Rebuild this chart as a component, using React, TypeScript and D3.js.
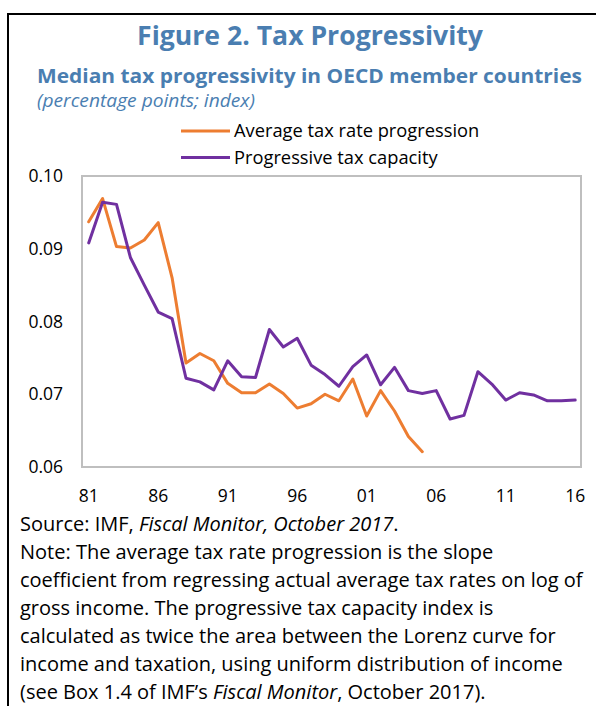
import React from "react";
import * as d3 from "d3";

const years = d3.range(1981, 2017);
const avgTaxRateProgression = [
  0.0937, 0.0969, 0.0903, 0.0901, 0.0912, 0.0936, 0.0860, 0.0743, 0.0756, 0.0746,
  0.0715, 0.0702, 0.0702, 0.0714, 0.0701, 0.0681, 0.0687, 0.0700, 0.0691, 0.0721,
  0.0670, 0.0705, 0.0677, 0.0642, 0.0621,
];
const progressiveTaxCapacity = [
  0.0908, 0.0964, 0.0961, 0.0888, 0.0850, 0.0813, 0.0804, 0.0722, 0.0717, 0.0706,
  0.0746, 0.0724, 0.0723, 0.0789, 0.0765, 0.0777, 0.0740, 0.0727, 0.0711, 0.0738,
  0.0754, 0.0713, 0.0737, 0.0705, 0.0701, 0.0705, 0.0666, 0.0671, 0.0731, 0.0714,
  0.0692, 0.0702, 0.0699, 0.0691, 0.0691, 0.0692,
];
const yTicks = [0.06, 0.07, 0.08, 0.09, 0.1];
const xTickYears = [1981, 1986, 1991, 1996, 2001, 2006, 2011, 2016];
const seriesNames = ["Average tax rate progression", "Progressive tax capacity"];
const seriesColors = ["#ED7D31", "#7030A0"];

const FONT = "'Open Sans', 'Noto Sans', sans-serif";
const BLUE = "#4A7EB1";

export default function App() {
  const W = 599, H = 706;
  const plot = { left: 82, right: 581, top: 176, bottom: 467 };
  const x = d3.scaleLinear().domain([1981, 2016]).range([88.7, 575.2]);
  const y = d3.scaleLinear().domain([0.06, 0.1]).range([plot.bottom, plot.top]);
  const line = d3
    .line<number>()
    .x((_, i) => x(years[i]))
    .y((d) => y(d));
  const series = [avgTaxRateProgression, progressiveTaxCapacity];

  const noteLines: React.ReactNode[] = [
    <>
      Source: IMF, <tspan fontStyle="italic">Fiscal Monitor, October 2017</tspan>.
    </>,
    <>Note: The average tax rate progression is the slope</>,
    <>coefficient from regressing actual average tax rates on log of</>,
    <>gross income. The progressive tax capacity index is</>,
    <>calculated as twice the area between the Lorenz curve for</>,
    <>income and taxation, using uniform distribution of income</>,
    <>
      (see Box 1.4 of IMF’s <tspan fontStyle="italic">Fiscal Monitor</tspan>, October 2017).
    </>,
  ];

  return (
    <svg
      width={W}
      height={H}
      style={{ position: "absolute", left: 0, top: 0, background: "#fff" }}
      fontFamily={FONT}
    >
      <rect x={0} y={0} width={W} height={H} fill="#fff" />
      {/* outer frame (top & left) */}
      <line x1={7} x2={596} y1={14} y2={14} stroke="#000" strokeWidth={2} />
      <line x1={8} x2={8} y1={13} y2={H} stroke="#000" strokeWidth={2} />

      <text x={310} y={45} textAnchor="middle" fontSize={26.6} fontWeight="bold" fill={BLUE}>
        Figure 2. Tax Progressivity
      </text>
      <text x={37} y={83} fontSize={20} fontWeight="bold" fill={BLUE} textLength={545} lengthAdjust="spacingAndGlyphs">
        Median tax progressivity in OECD member countries
      </text>
      <text x={37} y={107} fontSize={18} fontStyle="italic" fill={BLUE} textLength={218} lengthAdjust="spacingAndGlyphs">
        (percentage points; index)
      </text>

      {/* legend */}
      {seriesNames.map((n, i) => (
        <g key={n}>
          <line
            x1={181}
            x2={230}
            y1={131 + i * 26.5}
            y2={131 + i * 26.5}
            stroke={seriesColors[i]}
            strokeWidth={3}
          />
          <text x={234} y={137 + i * 26.5} fontSize={18.3} fill="#000">
            {n}
          </text>
        </g>
      ))}

      {/* plot frame */}
      <rect
        x={plot.left}
        y={plot.top}
        width={plot.right - plot.left}
        height={plot.bottom - plot.top}
        fill="none"
        stroke="#BFBFBF"
        strokeWidth={2}
      />

      {yTicks.map((t) => (
        <text key={t} x={63} y={y(t) + 6} textAnchor="end" fontSize={17.5} fill="#000">
          {d3.format(".2f")(t)}
        </text>
      ))}
      {xTickYears.map((t) => (
        <text key={t} x={x(t)} y={502} textAnchor="middle" fontSize={17.5} fill="#000">
          {String(t % 100).padStart(2, "0")}
        </text>
      ))}

      {series.map((s, i) => (
        <path
          key={i}
          d={line(s) || ""}
          fill="none"
          stroke={seriesColors[i]}
          strokeWidth={3}
          strokeLinejoin="round"
          strokeLinecap="round"
        />
      ))}

      {noteLines.map((l, i) => (
        <text key={i} x={20} y={531 + i * 28} fontSize={20} fill="#000">
          {l}
        </text>
      ))}
    </svg>
  );
}
